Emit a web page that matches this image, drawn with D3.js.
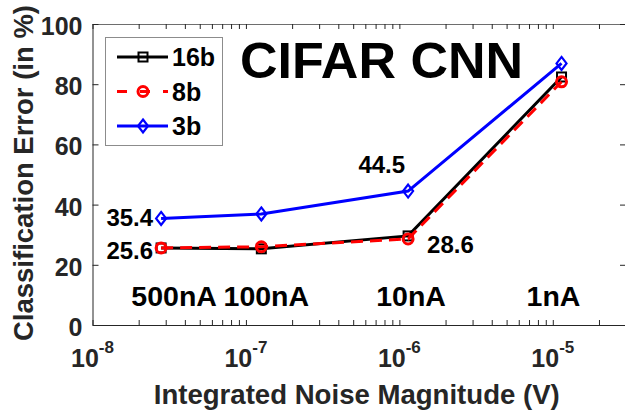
<!DOCTYPE html>
<html>
<head>
<meta charset="utf-8">
<script src="https://cdn.jsdelivr.net/npm/d3@7/dist/d3.min.js"></script>
<style>
  html, body { margin: 0; padding: 0; background: #fff; }
  svg { display: block; font-family: "Liberation Sans", Arial, sans-serif; font-weight: bold; }
</style>
</head>
<body>
<div id="chart"></div>
<script>
// Integrated noise magnitude (V) for each bias current setting
const noiseV = [2.8e-8, 1.26e-7, 1.14e-6, 1.14e-5];
const currentLabels = ["500nA", "100nA", "10nA", "1nA"];

// Classification error (%) per weight precision
const err16b = [25.6, 25.3, 29.6, 82.4];
const err8b  = [25.6, 26.0, 28.6, 80.8];
const err3b  = [35.4, 36.9, 44.5, 86.9];

const seriesNames = ["16b", "8b", "3b"];
const yTicks = [0, 20, 40, 60, 80, 100];
const xDecades = [1e-8, 1e-7, 1e-6, 1e-5];

// value callouts: [series index, point index, text]
const callouts = [
  [2, 0, "35.4"],
  [0, 0, "25.6"],
  [2, 2, "44.5"],
  [1, 2, "28.6"]
];

const W = 625, H = 418;
const plotL = 92.5, plotR = 626, plotT = 24, plotB = 325;
const axisColor = "#262626";

const svg = d3.select("#chart").append("svg")
  .attr("width", W).attr("height", H);

const x = d3.scaleLog().domain([1e-8, 3e-5]).range([plotL, plotR]);
const y = d3.scaleLinear().domain([0, 100]).range([plotB, plotT]);

// minor + major tick positions along the log axis
const xTicksAll = [];
for (let e = -8; e <= -5; e++) {
  for (let m = 1; m <= 9; m++) {
    const v = m * Math.pow(10, e);
    if (v <= 3e-5) xTicksAll.push(v);
  }
}

function styleAxis(g) {
  g.selectAll("path.domain").attr("stroke", axisColor).attr("stroke-width", 1);
  g.selectAll(".tick line").attr("stroke", axisColor).attr("stroke-width", 1);
}

// bottom axis: inward ticks, labels added as powers of ten
const gx = svg.append("g").attr("transform", `translate(0,${plotB})`)
  .call(d3.axisBottom(x).tickValues(xTicksAll).tickSizeInner(-5).tickSizeOuter(0).tickFormat(""));
styleAxis(gx);

const gxTop = svg.append("g").attr("transform", `translate(0,${plotT})`)
  .call(d3.axisTop(x).tickValues(xTicksAll).tickSizeInner(-5).tickSizeOuter(0).tickFormat(""));
styleAxis(gxTop);
gxTop.select("path.domain").attr("stroke", "#6e6e6e");

const gy = svg.append("g").attr("transform", `translate(${plotL},0)`)
  .call(d3.axisLeft(y).tickValues(yTicks).tickSizeInner(-6).tickSizeOuter(0).tickPadding(10));
styleAxis(gy);
gy.selectAll(".tick text")
  .attr("font-size", 25).attr("font-weight", "bold")
  .attr("fill", axisColor).attr("dy", "0.42em")
  .attr("font-family", "Liberation Sans, Arial, sans-serif");

const gyR = svg.append("g").attr("transform", `translate(${plotR},0)`)
  .call(d3.axisRight(y).tickValues(yTicks).tickSizeInner(-6).tickSizeOuter(0).tickFormat(""));
styleAxis(gyR);

// decade labels 10^n
xDecades.forEach(v => {
  const exp = Math.round(Math.log10(v));
  const t = svg.append("text")
    .attr("x", x(v)).attr("y", 367)
    .attr("text-anchor", "middle")
    .attr("fill", axisColor).attr("font-size", 25);
  t.append("tspan").text("10");
  t.append("tspan").attr("font-size", 17).attr("dy", -14).text(String(exp));
});

// axis titles
svg.append("text")
  .attr("x", (plotL + 625) / 2 - 2).attr("y", 404)
  .attr("text-anchor", "middle").attr("fill", axisColor)
  .attr("font-size", 27).attr("textLength", 406).attr("lengthAdjust", "spacingAndGlyphs")
  .text("Integrated Noise Magnitude (V)");

svg.append("text")
  .attr("transform", "translate(33,173) rotate(-90)")
  .attr("text-anchor", "middle").attr("fill", axisColor)
  .attr("font-size", 27).attr("textLength", 336).attr("lengthAdjust", "spacingAndGlyphs")
  .text("Classification Error (in %)");

// title
svg.append("text")
  .attr("x", 240).attr("y", 78)
  .attr("fill", "#000").attr("font-size", 50)
  .attr("textLength", 283).attr("lengthAdjust", "spacingAndGlyphs")
  .text("CIFAR CNN");

// series
const series = [
  { name: seriesNames[0], values: err16b, color: "#000000", dash: null, marker: "square" },
  { name: seriesNames[1], values: err8b,  color: "#ff0000", dash: "12,7", marker: "circle" },
  { name: seriesNames[2], values: err3b,  color: "#0000ff", dash: null, marker: "diamond" }
];

const line = d3.line().x(d => x(d[0])).y(d => y(d[1]));

function drawMarker(g, kind, cx, cy, color) {
  if (kind === "square") {
    g.append("rect").attr("x", cx - 4.5).attr("y", cy - 4.5)
      .attr("width", 9).attr("height", 9)
      .attr("fill", "none").attr("stroke", color).attr("stroke-width", 2);
  } else if (kind === "circle") {
    g.append("circle").attr("cx", cx).attr("cy", cy).attr("r", 5)
      .attr("fill", "none").attr("stroke", color).attr("stroke-width", 3);
  } else {
    g.append("path")
      .attr("d", `M${cx},${cy - 6.5}L${cx + 5},${cy}L${cx},${cy + 6.5}L${cx - 5},${cy}Z`)
      .attr("fill", "none").attr("stroke", color).attr("stroke-width", 2.2);
  }
}

series.forEach(s => {
  const g = svg.append("g");
  const pts = noiseV.map((v, i) => [v, s.values[i]]);
  g.append("path").attr("d", line(pts))
    .attr("fill", "none").attr("stroke", s.color)
    .attr("stroke-width", 3)
    .attr("stroke-dasharray", s.dash);
  pts.forEach(p => drawMarker(g, s.marker, x(p[0]), y(p[1]), s.color));
});

// current-setting annotations
const currentDx = [13, 5, 3, -8];
currentLabels.forEach((lab, i) => {
  svg.append("text")
    .attr("x", x(noiseV[i]) + currentDx[i]).attr("y", 306)
    .attr("text-anchor", "middle").attr("fill", "#000")
    .attr("font-size", 28.5)
    .text(lab);
});

// value callouts
const calloutPlace = [
  { dx: -8, dy: 8, anchor: "end" },
  { dx: -8, dy: 11, anchor: "end" },
  { dx: -3, dy: -18, anchor: "end" },
  { dx: 19, dy: 14, anchor: "start" }
];
callouts.forEach((c, k) => {
  const s = series[c[0]];
  const p = calloutPlace[k];
  svg.append("text")
    .attr("x", x(noiseV[c[1]]) + p.dx)
    .attr("y", y(s.values[c[1]]) + p.dy)
    .attr("text-anchor", p.anchor).attr("fill", "#000")
    .attr("font-size", 24)
    .text(c[2]);
});

// legend
const lg = svg.append("g");
lg.append("rect").attr("x", 105.5).attr("y", 37.5).attr("width", 117).attr("height", 108)
  .attr("fill", "#fff").attr("stroke", "#8c8c8c").attr("stroke-width", 1);
series.forEach((s, i) => {
  const cy = 57 + i * 34.5;
  lg.append("line").attr("x1", 117).attr("x2", 168).attr("y1", cy).attr("y2", cy)
    .attr("stroke", s.color).attr("stroke-width", 3)
    .attr("stroke-dasharray", s.dash ? "10,13" : null);
  drawMarker(lg, s.marker, 143, cy, s.color);
  lg.append("text").attr("x", 172).attr("y", cy + 9)
    .attr("fill", "#000").attr("font-size", 25)
    .text(s.name);
});
</script>
</body>
</html>
